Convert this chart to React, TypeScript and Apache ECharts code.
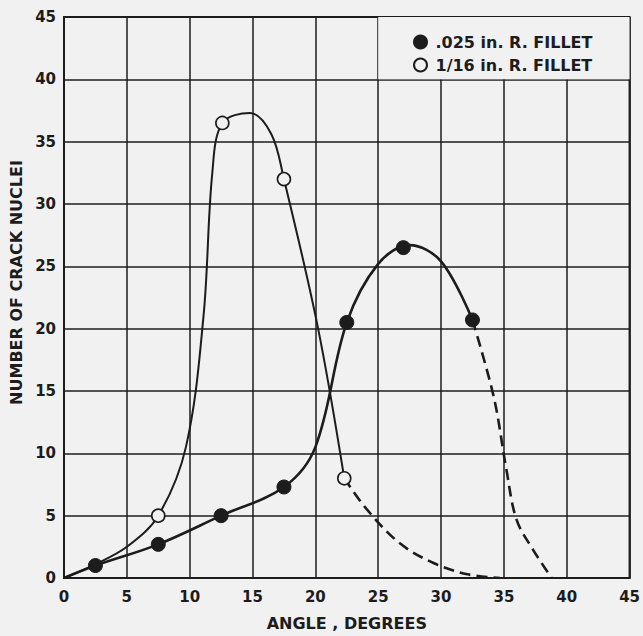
import React, { useEffect, useRef } from "react";
import * as echarts from "echarts";

const xMax = 45;
const yMax = 45;
const tickStep = 5;

const seriesNames = [".025 in. R. FILLET", "1/16 in. R. FILLET"];

// measured points
const filledPoints = [
  [2.5, 1.0], [7.5, 2.7], [12.5, 5.0], [17.5, 7.3], [22.5, 20.5], [27.0, 26.5], [32.5, 20.7],
];
const openPoints = [
  [7.5, 5.0], [12.6, 36.5], [17.5, 32.0], [22.3, 8.0],
];

// hand-drawn curves
const filledCurve = [
  [0, 0], [2.5, 1.0], [7.5, 2.7], [12.5, 5.0], [17.5, 7.3], [20, 10.5],
  [22.5, 20.5], [25, 25.2], [27.5, 26.7], [30, 25.4], [32.5, 20.7],
];
const filledDash = [
  [32.5, 20.7], [34.2, 14.5], [35.2, 8.7], [36.0, 4.7], [37.3, 2.3], [38.8, 0],
];
const openCurve = [
  [0, 0], [2.5, 1.1], [5, 2.5], [7.5, 5.0], [9.7, 10.5], [11.1, 21],
  [11.8, 32.5], [12.6, 36.5], [14.8, 37.3], [16.5, 35.6], [17.5, 32.0], [20.2, 20.1], [22.3, 8.0],
];
const openDash = [
  [22.3, 8.0], [24.1, 5.5], [26.7, 2.8], [29.4, 1.2], [32.1, 0.3], [34.7, 0],
];

// legend box covering part of the grid
const legendBox = [[25, 40], [45, 45]];

const FONT = "DejaVu Sans";
const INK = "#1c1c1c";
const BG = "#f1f1f1";

export default function App() {
  const ref = useRef<HTMLDivElement>(null);
  useEffect(() => {
    if (!ref.current) return;
    const chart = echarts.init(ref.current, undefined, { renderer: "svg" });
    const axisCommon = {
      type: "value" as const,
      min: 0,
      interval: tickStep,
      axisLine: { show: true, lineStyle: { color: INK, width: 2 } },
      axisTick: { show: false },
      splitLine: { show: true, lineStyle: { color: INK, width: 1.5 } },
      nameLocation: "middle" as const,
      axisLabel: { fontFamily: FONT, fontWeight: "bold", fontSize: 15, color: INK },
    };
    const nameStyle = { fontFamily: FONT, fontWeight: "bold", fontSize: 16, color: INK };
    chart.setOption({
      animation: false,
      backgroundColor: BG,
      grid: { left: 63, right: 13, top: 17, bottom: 51, show: true, borderColor: INK, borderWidth: 2 },
      xAxis: {
        ...axisCommon, max: xMax, name: "ANGLE , DEGREES", nameGap: 37,
        nameTextStyle: nameStyle,
        axisLabel: { ...axisCommon.axisLabel, margin: 11 },
      },
      yAxis: {
        ...axisCommon, max: yMax, name: "NUMBER OF CRACK NUCLEI", nameGap: 40,
        nameTextStyle: { ...nameStyle, padding: [0, 0, 0, 30] },
        axisLabel: { ...axisCommon.axisLabel, margin: 8 },
      },
      legend: {
        orient: "vertical",
        left: 408,
        top: 29,
        itemGap: 7,
        itemWidth: 14,
        itemHeight: 13,
        data: seriesNames,
        textStyle: { fontFamily: FONT, fontWeight: "bold", fontSize: 16, color: INK, padding: [0, 0, 0, 3] },
      },
      series: [
        {
          type: "line",
          data: [],
          silent: true,
          markArea: {
            silent: true,
            itemStyle: { color: BG, opacity: 1 },
            data: [[{ coord: legendBox[0] }, { coord: legendBox[1] }]],
          },
        },
        {
          type: "line", data: filledCurve, smooth: 0.35, symbol: "none",
          lineStyle: { color: INK, width: 2.6 }, z: 3,
        },
        {
          type: "line", data: filledDash, smooth: 0.35, symbol: "none",
          lineStyle: { color: INK, width: 2.6, type: [11, 6] }, z: 3,
        },
        {
          type: "line", data: openCurve, smooth: 0.35, symbol: "none",
          lineStyle: { color: INK, width: 2 }, z: 3,
        },
        {
          type: "line", data: openDash, smooth: 0.35, symbol: "none",
          lineStyle: { color: INK, width: 2.6, type: [11, 6] }, z: 3,
        },
        {
          name: seriesNames[0], type: "scatter", data: filledPoints, symbol: "circle", symbolSize: 14,
          itemStyle: { color: INK, borderColor: INK, borderWidth: 1, opacity: 1 }, z: 5,
        },
        {
          name: seriesNames[1], type: "scatter", data: openPoints, symbol: "circle", symbolSize: 13,
          itemStyle: { color: BG, borderColor: INK, borderWidth: 1.6, opacity: 1 }, z: 5,
        },
      ],
    });
    return () => chart.dispose();
  }, []);
  return (
    <div
      ref={ref}
      style={{ position: "fixed", left: 0, top: 0, width: 643, height: 636 }}
    />
  );
}
